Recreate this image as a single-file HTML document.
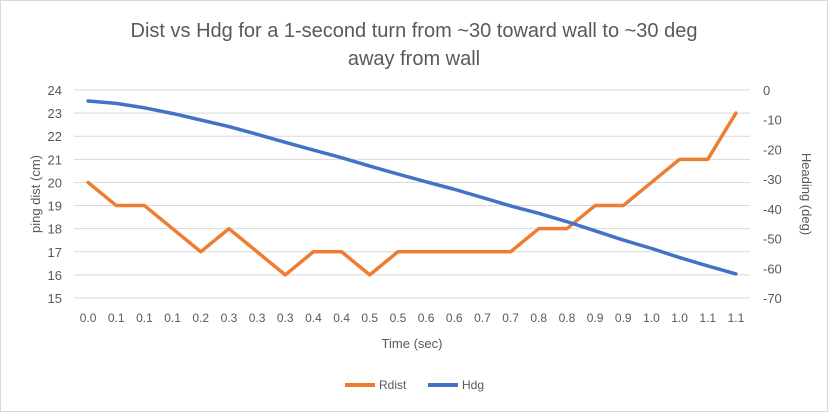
<!DOCTYPE html>
<html><head><meta charset="utf-8"><style>
body{margin:0;background:#fff;font-family:"Liberation Sans",Calibri,sans-serif;}
svg text{font-family:"Liberation Sans",sans-serif;}
</style></head><body>
<svg id="c" width="828" height="412" viewBox="0 0 828 412" xmlns="http://www.w3.org/2000/svg">
<rect x="0.5" y="0.5" width="827" height="411" fill="#fff" stroke="#d9d9d9"/>
<text x="414" y="37" text-anchor="middle" font-size="20" fill="#595959">Dist vs Hdg for a 1-second turn from ~30 toward wall to ~30 deg</text>
<text x="414" y="65" text-anchor="middle" font-size="20" fill="#595959">away from wall</text>
<g id="grid"></g><g id="lt"></g><g id="rt"></g><g id="xt"></g><g id="series"></g>
<text transform="translate(40,194) rotate(-90)" text-anchor="middle" font-size="13" fill="#595959">ping dist (cm)</text>
<text transform="translate(802,194) rotate(90)" text-anchor="middle" font-size="13" fill="#595959">Heading (deg)</text>
<text x="412" y="348" text-anchor="middle" font-size="13" fill="#595959">Time (sec)</text>
<g>
<line x1="345" y1="385" x2="375" y2="385" stroke="#ed7d31" stroke-width="4"/>
<text x="379" y="389" font-size="12" fill="#595959">Rdist</text>
<line x1="428" y1="385" x2="458" y2="385" stroke="#4472c4" stroke-width="4"/>
<text x="462" y="389" font-size="12" fill="#595959">Hdg</text>
</g>
</svg>
<script>
const categories=["0.0","0.1","0.1","0.1","0.2","0.3","0.3","0.3","0.4","0.4","0.5","0.5","0.6","0.6","0.7","0.7","0.8","0.8","0.9","0.9","1.0","1.0","1.1","1.1"];
const rdist=[20,19,19,18,17,18,17,16,17,17,16,17,17,17,17,17,18,18,19,19,20,21,21,23];
const hdg=[-3.7,-4.5,-6.0,-7.9,-10.1,-12.3,-14.9,-17.6,-20.2,-22.8,-25.6,-28.3,-30.9,-33.4,-36.2,-39.0,-41.5,-44.3,-47.4,-50.5,-53.3,-56.4,-59.2,-61.9];
const leftTicks=[15,16,17,18,19,20,21,22,23,24];
const rightTicks=[-70,-60,-50,-40,-30,-20,-10,0];
const NS="http://www.w3.org/2000/svg";
const L=74,R=750,T=90,B=298;
const bw=(R-L)/categories.length;
const xs=i=>L+bw*(i+0.5);
const yL=v=>B-(v-15)/(24-15)*(B-T);
const yR=v=>B-(v+70)/70*(B-T);
function mk(tag,attrs,parent){const e=document.createElementNS(NS,tag);for(const k in attrs)e.setAttribute(k,attrs[k]);parent.appendChild(e);return e;}
const g=document.getElementById('grid'),lt=document.getElementById('lt'),rt=document.getElementById('rt'),xt=document.getElementById('xt'),se=document.getElementById('series');
leftTicks.forEach(v=>{
 const l=mk('line',{x1:L,x2:R,y1:yL(v),y2:yL(v),stroke:'#d9d9d9','stroke-width':1},g);
 
 
 const t=mk('text',{x:62,y:yL(v)+5,'text-anchor':'end','font-size':13,fill:'#595959'},lt);
 t.textContent=v;
 
 
});
rightTicks.forEach(v=>{
 const t=mk('text',{x:763,y:yR(v)+5,'text-anchor':'start','font-size':13,fill:'#595959'},rt);
 t.textContent=v;
 
 
});
categories.forEach((c,i)=>{
 const t=mk('text',{x:xs(i),y:322,'text-anchor':'middle','font-size':12,fill:'#595959'},xt);
 t.textContent=c;
 
 
});
const p1=mk('polyline',{points:rdist.map((v,i)=>xs(i)+','+yL(v)).join(' '),fill:'none',stroke:'#ed7d31','stroke-width':3.5,'stroke-linejoin':'round','stroke-linecap':'round'},se);


const p2=mk('polyline',{points:hdg.map((v,i)=>xs(i)+','+yR(v)).join(' '),fill:'none',stroke:'#4472c4','stroke-width':3.5,'stroke-linejoin':'round','stroke-linecap':'round'},se);


</script>
</body></html>
